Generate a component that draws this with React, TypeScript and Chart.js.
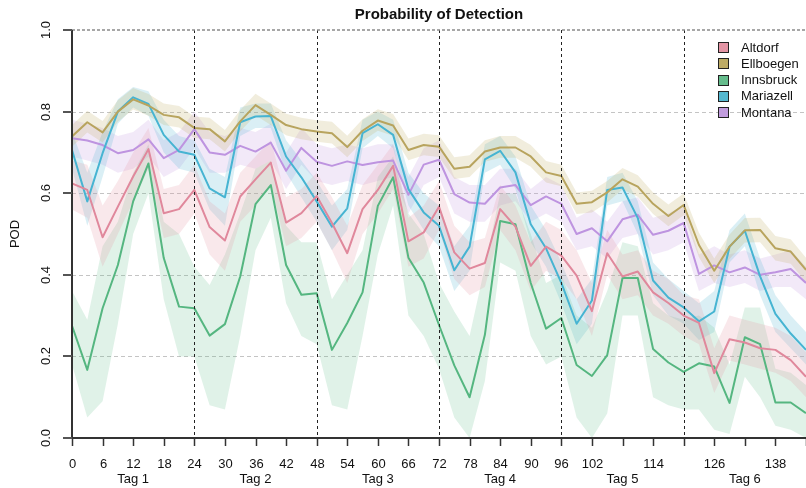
import React, { useEffect, useRef } from 'react';
import { Chart, registerables } from 'chart.js';
Chart.register(...registerables);

const hours = [0,3,6,9,12,15,18,21, 24,27,30,33,36,39,42,45, 48,51,54,57,60,63,66,69, 72,75,78,81,84,87,90,93, 96,99,102,105,108,111,114,117, 120,123,126,129,132,135,138,141, 144];

const altdorf = [0.624,0.608,0.492,0.567,0.641,0.708,0.551,0.561, 0.608,0.517,0.484,0.592,0.634,0.675,0.528,0.551, 0.593,0.527,0.453,0.561,0.608,0.667,0.482,0.504, 0.567,0.455,0.415,0.429,0.561,0.518,0.422,0.469, 0.447,0.398,0.311,0.453,0.396,0.408,0.357,0.331, 0.300,0.282,0.159,0.242,0.234,0.220,0.216,0.191, 0.150];
const altdorfLo = [0.56,0.54,0.42,0.50,0.58,0.66,0.49,0.50, 0.55,0.45,0.41,0.53,0.57,0.62,0.47,0.49, 0.53,0.46,0.38,0.50,0.55,0.61,0.42,0.44, 0.51,0.39,0.35,0.37,0.51,0.46,0.36,0.41, 0.39,0.34,0.25,0.40,0.34,0.35,0.30,0.28, 0.25,0.23,0.11,0.19,0.18,0.17,0.16,0.14, 0.10];
const altdorfHi = [0.68,0.67,0.57,0.63,0.70,0.76,0.61,0.62, 0.67,0.58,0.55,0.65,0.69,0.73,0.59,0.61, 0.65,0.59,0.52,0.62,0.67,0.72,0.54,0.57, 0.63,0.52,0.48,0.49,0.62,0.57,0.48,0.53, 0.51,0.46,0.38,0.51,0.45,0.46,0.41,0.39, 0.35,0.34,0.22,0.30,0.29,0.28,0.27,0.25, 0.21];

const ellboegen = [0.739,0.774,0.749,0.800,0.830,0.815,0.792,0.786, 0.760,0.757,0.727,0.776,0.816,0.792,0.767,0.757, 0.751,0.747,0.713,0.753,0.778,0.766,0.706,0.718, 0.714,0.660,0.665,0.702,0.712,0.712,0.690,0.651, 0.642,0.574,0.578,0.602,0.634,0.616,0.574,0.544, 0.571,0.473,0.410,0.469,0.509,0.510,0.465,0.457, 0.412];
const ellboegenLo = [0.714,0.749,0.724,0.775,0.805,0.790,0.767,0.761, 0.735,0.732,0.702,0.751,0.791,0.767,0.742,0.732, 0.726,0.722,0.688,0.728,0.753,0.741,0.681,0.693, 0.689,0.635,0.640,0.677,0.687,0.687,0.665,0.626, 0.617,0.549,0.553,0.577,0.609,0.591,0.549,0.519, 0.546,0.443,0.380,0.439,0.479,0.480,0.435,0.427, 0.382];
const ellboegenHi = [0.767,0.802,0.777,0.828,0.858,0.843,0.820,0.814, 0.788,0.785,0.755,0.804,0.844,0.820,0.795,0.785, 0.779,0.775,0.741,0.781,0.806,0.794,0.734,0.746, 0.742,0.688,0.693,0.730,0.740,0.740,0.718,0.679, 0.670,0.602,0.606,0.630,0.662,0.644,0.602,0.572, 0.599,0.503,0.440,0.499,0.539,0.540,0.495,0.487, 0.442];

const innsbruck = [0.275,0.167,0.318,0.424,0.580,0.673,0.441,0.322, 0.318,0.251,0.279,0.396,0.573,0.620,0.424,0.351, 0.355,0.216,0.282,0.357,0.569,0.639,0.442,0.381, 0.277,0.178,0.100,0.253,0.532,0.524,0.380,0.268, 0.294,0.179,0.152,0.203,0.392,0.392,0.218,0.185, 0.162,0.183,0.175,0.086,0.247,0.230,0.087,0.087, 0.061];
const innsbruckLo = [0.18,0.05,0.09,0.28,0.50,0.60,0.34,0.20, 0.20,0.08,0.07,0.25,0.46,0.54,0.33,0.25, 0.23,0.08,0.07,0.25,0.45,0.57,0.30,0.25, 0.17,0.05,0.00,0.14,0.43,0.41,0.25,0.18, 0.20,0.05,0.00,0.06,0.30,0.30,0.10,0.08, 0.07,0.07,0.02,0.01,0.15,0.10,0.03,0.02, 0.00];
const innsbruckHi = [0.36,0.29,0.47,0.53,0.65,0.72,0.53,0.50, 0.42,0.375,0.45,0.55,0.66,0.68,0.52,0.48, 0.48,0.34,0.40,0.46,0.64,0.69,0.55,0.50, 0.38,0.31,0.25,0.42,0.60,0.60,0.50,0.38, 0.40,0.30,0.27,0.36,0.48,0.47,0.33,0.30, 0.29,0.30,0.27,0.18,0.32,0.32,0.17,0.16, 0.13];

const mariazell = [0.706,0.580,0.698,0.800,0.835,0.819,0.743,0.702, 0.694,0.612,0.590,0.774,0.788,0.789,0.690,0.639, 0.580,0.518,0.563,0.747,0.769,0.743,0.610,0.553, 0.520,0.411,0.469,0.683,0.704,0.651,0.524,0.465, 0.380,0.280,0.337,0.608,0.614,0.539,0.386,0.344, 0.320,0.286,0.310,0.469,0.508,0.396,0.304,0.256, 0.216];
const mariazellLo = [0.66,0.52,0.64,0.77,0.81,0.79,0.70,0.66, 0.65,0.56,0.52,0.74,0.76,0.76,0.65,0.59, 0.53,0.46,0.51,0.71,0.74,0.71,0.57,0.51, 0.47,0.36,0.41,0.65,0.67,0.61,0.48,0.42, 0.33,0.23,0.28,0.57,0.58,0.50,0.35,0.30, 0.28,0.24,0.26,0.43,0.47,0.35,0.26,0.22, 0.18];
const mariazellHi = [0.75,0.65,0.75,0.83,0.86,0.85,0.78,0.74, 0.73,0.66,0.64,0.81,0.82,0.82,0.73,0.68, 0.63,0.57,0.61,0.78,0.80,0.78,0.65,0.60, 0.57,0.47,0.52,0.72,0.74,0.69,0.57,0.51, 0.43,0.34,0.39,0.64,0.65,0.58,0.43,0.39, 0.36,0.33,0.36,0.51,0.55,0.44,0.35,0.30, 0.26];

const montana = [0.735,0.729,0.718,0.698,0.706,0.732,0.686,0.706, 0.757,0.700,0.694,0.716,0.702,0.724,0.655,0.711, 0.677,0.667,0.678,0.669,0.676,0.680,0.596,0.670, 0.682,0.598,0.577,0.574,0.614,0.620,0.571,0.592, 0.574,0.500,0.514,0.482,0.536,0.547,0.498,0.508, 0.527,0.402,0.423,0.406,0.418,0.400,0.406,0.414, 0.380];
const montanaLo = [0.69,0.68,0.67,0.65,0.66,0.69,0.64,0.66, 0.71,0.65,0.65,0.67,0.66,0.68,0.61,0.67, 0.63,0.62,0.63,0.62,0.63,0.64,0.55,0.62, 0.64,0.55,0.53,0.53,0.57,0.58,0.53,0.55, 0.53,0.46,0.47,0.44,0.49,0.50,0.45,0.46, 0.48,0.36,0.38,0.37,0.38,0.36,0.37,0.37, 0.34];
const montanaHi = [0.78,0.77,0.76,0.74,0.75,0.78,0.73,0.75, 0.80,0.75,0.74,0.76,0.75,0.77,0.70,0.76, 0.72,0.71,0.72,0.71,0.72,0.72,0.64,0.71, 0.73,0.64,0.62,0.62,0.66,0.66,0.61,0.64, 0.62,0.54,0.56,0.53,0.58,0.59,0.54,0.55, 0.57,0.45,0.47,0.45,0.46,0.44,0.45,0.46, 0.42];

const seriesNames = ['Altdorf', 'Ellboegen', 'Innsbruck', 'Mariazell', 'Montana'];
const seriesValues = [altdorf, ellboegen, innsbruck, mariazell, montana];
const seriesLower = [altdorfLo, ellboegenLo, innsbruckLo, mariazellLo, montanaLo];
const seriesUpper = [altdorfHi, ellboegenHi, innsbruckHi, mariazellHi, montanaHi];
const legendColors = ['#E495A5', '#BDAB66', '#65BC8C', '#55B8D0', '#C29DDE'];
const lineColors = ['#E0889C', '#B8A45E', '#55B680', '#46B4D2', '#BE94E0'];
const bandColors = ['rgba(228,149,165,0.22)', 'rgba(189,171,102,0.22)', 'rgba(101,188,140,0.2)', 'rgba(85,184,208,0.22)', 'rgba(194,157,222,0.22)'];

const xTickValues = [0,6,12,18,24,30,36,42,48,54,60,66,72,78,84,90,96,102,108,114,120,126,132,138,144];
const xTickLabels = ['0','6','12','18','24','30','36','42','48','54','60','66','72','78','84','90','96','102','','114','','126','','138',''];
const dayBoundaries = [24, 48, 72, 96, 120];
const dayCenters = [12, 36, 60, 84, 108, 132];
const dayLabels = ['Tag 1', 'Tag 2', 'Tag 3', 'Tag 4', 'Tag 5', 'Tag 6'];
const yTickValues = [0, 0.2, 0.4, 0.6, 0.8, 1.0];
const yTickLabels = ['0.0', '0.2', '0.4', '0.6', '0.8', '1.0'];
const yGridValues = [0.2, 0.4, 0.6, 0.8];

const FONT = '"Liberation Sans", Arial, Helvetica, sans-serif';

const decorPlugin = {
  id: 'decor',
  beforeDatasetsDraw(chart: any) {
    const { ctx, chartArea: a, scales } = chart;
    const y = scales.y;
    ctx.save();
    ctx.strokeStyle = '#c4c4c4';
    ctx.lineWidth = 1;
    ctx.setLineDash([4, 3]);
    for (const v of yGridValues) {
      const py = Math.round(y.getPixelForValue(v)) + 0.5;
      ctx.beginPath(); ctx.moveTo(a.left, py); ctx.lineTo(a.right, py); ctx.stroke();
    }
    ctx.restore();
  },
  afterDatasetsDraw(chart: any) {
    const { ctx, chartArea: a, scales } = chart;
    const x = scales.x; const y = scales.y;
    ctx.save();
    ctx.strokeStyle = '#222';
    ctx.lineWidth = 1;
    ctx.setLineDash([3, 3]);
    for (const d of dayBoundaries) {
      const px = Math.round(x.getPixelForValue(d)) + 0.5;
      ctx.beginPath(); ctx.moveTo(px, a.top); ctx.lineTo(px, a.bottom); ctx.stroke();
    }
    // top line at 1.0
    ctx.strokeStyle = '#8a8a8a';
    ctx.lineWidth = 1.5;
    ctx.setLineDash([3, 2]);
    const pt = Math.round(y.getPixelForValue(1.0));
    ctx.beginPath(); ctx.moveTo(a.left, pt); ctx.lineTo(a.right, pt); ctx.stroke();
    ctx.restore();
  },
  afterDraw(chart: any) {
    const { ctx, chartArea: a, scales } = chart;
    const x = scales.x; const y = scales.y;
    ctx.save();
    // axes lines
    ctx.strokeStyle = '#333';
    ctx.lineWidth = 2;
    ctx.beginPath(); ctx.moveTo(a.left, y.getPixelForValue(1.0)); ctx.lineTo(a.left, a.bottom); ctx.stroke();
    ctx.beginPath(); ctx.moveTo(a.left, a.bottom); ctx.lineTo(a.right, a.bottom); ctx.stroke();
    // x ticks
    ctx.lineWidth = 1.5;
    ctx.strokeStyle = '#333';
    ctx.fillStyle = '#111';
    ctx.font = '13px ' + FONT;
    ctx.textAlign = 'center';
    ctx.textBaseline = 'middle';
    xTickValues.forEach((v, i) => {
      const px = Math.round(x.getPixelForValue(v)) + 0.5;
      ctx.beginPath(); ctx.moveTo(px, a.bottom); ctx.lineTo(px, a.bottom + 8); ctx.stroke();
      if (xTickLabels[i]) ctx.fillText(xTickLabels[i], px, a.bottom + 26);
    });
    dayCenters.forEach((c, i) => {
      ctx.fillText(dayLabels[i], x.getPixelForValue(c), a.bottom + 41);
    });
    // y ticks
    ctx.strokeStyle = '#555';
    ctx.lineWidth = 2;
    yTickValues.forEach((v, i) => {
      const py = Math.round(y.getPixelForValue(v));
      ctx.beginPath(); ctx.moveTo(a.left - 9, py); ctx.lineTo(a.left, py); ctx.stroke();
      ctx.save();
      ctx.translate(a.left - 26, py);
      ctx.rotate(-Math.PI / 2);
      ctx.fillText(yTickLabels[i], 0, 0);
      ctx.restore();
    });
    // y title
    ctx.save();
    ctx.translate(15, (a.top + a.bottom) / 2);
    ctx.rotate(-Math.PI / 2);
    ctx.fillText('POD', 0, 0);
    ctx.restore();
    // title
    ctx.font = 'bold 15px ' + FONT;
    ctx.fillText('Probability of Detection', (a.left + a.right) / 2, 15);
    // legend
    ctx.font = '13px ' + FONT;
    ctx.textAlign = 'left';
    ctx.lineWidth = 1;
    ctx.strokeStyle = '#222';
    seriesNames.forEach((n, i) => {
      const cy = 47 + i * 16.3;
      ctx.fillStyle = legendColors[i];
      ctx.fillRect(718, Math.round(cy - 5), 10, 10);
      ctx.strokeRect(718.5, Math.round(cy - 5) + 0.5, 10, 10);
      ctx.fillStyle = '#111';
      ctx.fillText(n, 741, cy + 1);
    });
    ctx.restore();
  },
};

export default function App() {
  const ref = useRef<HTMLCanvasElement | null>(null);
  useEffect(() => {
    if (!ref.current) return;
    const datasets: any[] = [];
    seriesNames.forEach((name, i) => {
      const lo = hours.map((h, k) => ({ x: h, y: seriesLower[i][k] }));
      const hi = hours.map((h, k) => ({ x: h, y: seriesUpper[i][k] }));
      const base = datasets.length;
      datasets.push({ label: name + ' lower', data: lo, borderWidth: 0, pointRadius: 0, fill: false, order: 1, borderColor: 'transparent' });
      datasets.push({ label: name + ' upper', data: hi, borderWidth: 0, pointRadius: 0, fill: { target: base }, backgroundColor: bandColors[i], order: 1, borderColor: 'transparent' });
    });
    seriesNames.forEach((name, i) => {
      datasets.push({ label: name, data: hours.map((h, k) => ({ x: h, y: seriesValues[i][k] })), borderColor: lineColors[i], borderWidth: 2, pointRadius: 0, fill: false, order: 0, tension: 0 });
    });
    const chart = new Chart(ref.current, {
      type: 'line',
      data: { datasets },
      options: {
        animation: false,
        responsive: false,
        layout: { padding: { left: 72, top: 30, right: 0, bottom: 50 } },
        scales: {
          x: { type: 'linear', min: 0, max: 144, display: false },
          y: { type: 'linear', min: 0, max: 1, display: false },
        },
        plugins: { legend: { display: false }, title: { display: false }, tooltip: { enabled: false } },
        elements: { line: { borderJoinStyle: 'round' } },
      },
      plugins: [decorPlugin],
    });
    return () => chart.destroy();
  }, []);
  return (
    <div style={{ position: 'absolute', left: 0, top: 0, width: 806, height: 488, background: '#fff' }}>
      <canvas ref={ref} width={806} height={488} style={{ display: 'block' }} />
    </div>
  );
}
